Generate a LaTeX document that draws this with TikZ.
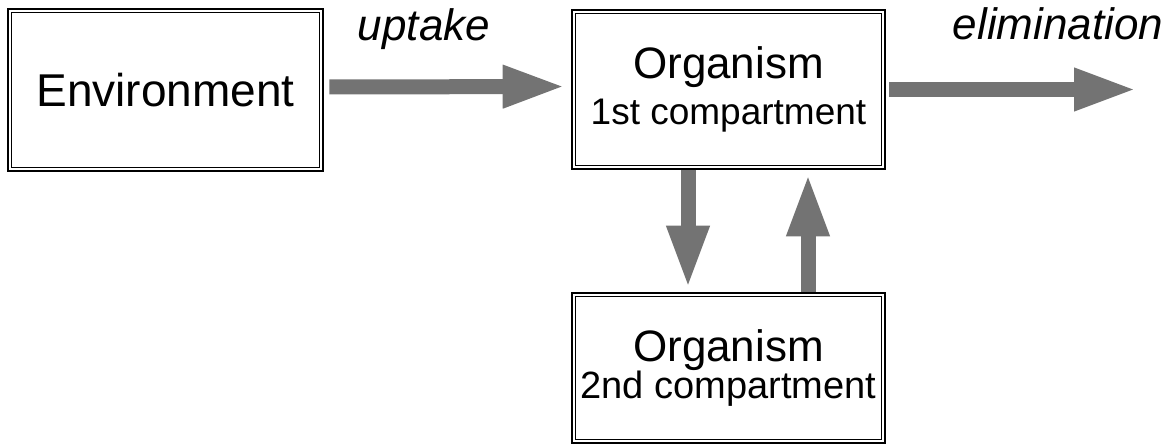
\documentclass[tikz,border=0pt]{standalone}
\usepackage{fontspec}
\setmainfont{Liberation Sans}
\usetikzlibrary{arrows.meta}
\begin{document}
\begin{tikzpicture}[x=1pt,y=-1pt,
  box/.style={draw, line width=2.6pt, inner sep=0pt, align=center},
  big/.style={font=\fontsize{46}{50}\selectfont},
  flow/.style={line width=15pt, draw=black!55,
    -{Triangle[width=39pt,length=63pt]}},
  label/.style={font=\fontsize{44}{50}\selectfont\itshape, anchor=base}]
  \useasboundingbox (0,0) rectangle (1171,445);

  % compartments
  \node[box, big, minimum width=315pt, minimum height=162pt] (env) at (165.5,90) {Environment};
  \node[box, minimum width=313pt, minimum height=159pt] (org1) at (728.5,89.5)
    {{\fontsize{44}{47}\selectfont Organism}\\[11pt]{\fontsize{37}{44}\selectfont 1st compartment}};
  \node[box, minimum width=313pt, minimum height=150pt] (org2) at (728.5,368)
    {{\fontsize{44}{47}\selectfont Organism}\\[0pt]{\fontsize{38}{44}\selectfont 2nd compartment}};

  % inner line of the double frames
  \foreach \n in {env,org1,org2}
    \draw[line width=1.1pt] ([xshift=5pt,yshift=-5pt]\n.north west)
      rectangle ([xshift=-5pt,yshift=5pt]\n.south east);

  % transfer arrows
  \draw[flow, shorten <=5pt, shorten >=5pt] ([yshift=3pt]env.east) -- ([yshift=3pt]org1.west);
  \coordinate (out) at (1137,89.5);
  \draw[flow, shorten <=3pt] (org1.east) -- (out);
  \draw[flow, shorten >=3pt] ([xshift=-40.5pt]org1.south) -- ([xshift=-40.5pt]org2.north);
  \draw[flow, shorten >=3pt] ([xshift=79.5pt]org2.north) -- ([xshift=79.5pt]org1.south);

  % rate labels
  \node[label] (up) at (424,40) {uptake};
  \node[label] (el) at (1058,39) {elimination};
\end{tikzpicture}
\end{document}
